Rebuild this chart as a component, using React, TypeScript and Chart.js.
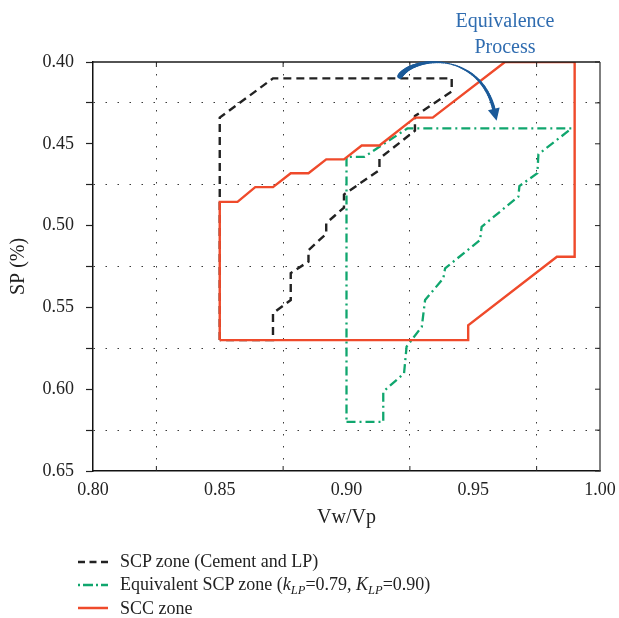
import React, { useEffect, useRef } from "react";
import { Chart, registerables } from "chart.js";

Chart.register(...registerables);

// ---- data ----
const SCP_X = [0.85, 0.85, 0.871, 0.9415, 0.9415, 0.927, 0.927, 0.913, 0.913, 0.899, 0.899, 0.892, 0.892, 0.885, 0.885, 0.878, 0.878, 0.871, 0.871, 0.85];
const SCP_Y = [0.57, 0.434, 0.41, 0.41, 0.418, 0.433, 0.442, 0.459, 0.466, 0.481, 0.489, 0.4985, 0.505, 0.515, 0.522, 0.529, 0.5455, 0.5535, 0.57, 0.57];

const EQ_X = [0.9, 0.9145, 0.9145, 0.9227, 0.9237, 0.9297, 0.931, 0.9382, 0.9389, 0.9527, 0.9533, 0.9678, 0.9682, 0.9753, 0.9757, 0.9888, 0.924, 0.907, 0.9, 0.9];
const EQ_Y = [0.62, 0.62, 0.6015, 0.5903, 0.574, 0.5618, 0.5455, 0.5322, 0.5261, 0.5088, 0.5007, 0.4823, 0.4758, 0.468, 0.4564, 0.4406, 0.4406, 0.458, 0.458, 0.62];

const SCC_X = [0.85, 0.948, 0.948, 0.983, 0.99, 0.99, 0.9625, 0.934, 0.927, 0.913, 0.906, 0.899, 0.892, 0.885, 0.878, 0.871, 0.864, 0.857, 0.85, 0.85];
const SCC_Y = [0.57, 0.57, 0.561, 0.519, 0.519, 0.4, 0.4, 0.434, 0.434, 0.451, 0.451, 0.4595, 0.4595, 0.468, 0.468, 0.4765, 0.4765, 0.4855, 0.4855, 0.57];

const X_TICKS = [0.8, 0.825, 0.85, 0.875, 0.9, 0.925, 0.95, 0.975, 1.0];
const X_LABELS = ["0.80", "", "0.85", "", "0.90", "", "0.95", "", "1.00"];
const Y_TICKS = [0.4, 0.425, 0.45, 0.475, 0.5, 0.525, 0.55, 0.575, 0.6, 0.625, 0.65];
const Y_LABELS = ["0.40", "", "0.45", "", "0.50", "", "0.55", "", "0.60", "", "0.65"];

const X_TITLE = "Vw/Vp";
const Y_TITLE = "SP (%)";
const ANNOT_LINES = ["Equivalence", "Process"];
const ANNOT_X = 0.9625;

// curved arrow (data coordinates): start, control 1, control 2, end
const ARROW = [
  { x: 0.9211, y: 0.4086 },
  { x: 0.927, y: 0.3957 },
  { x: 0.9527, y: 0.3939 },
  { x: 0.9582, y: 0.4293 },
];

const SERIF = '"Liberation Serif", "Times New Roman", serif';
const BLACK = "#222222";
const GREEN = "#10a66e";
const RED = "#ef4a2b";
const BLUE_TEXT = "#2f6cb0";
const BLUE_ARROW = "#1b5a99";

const pts = (xs: number[], ys: number[]) => xs.map((x, i) => ({ x, y: ys[i] }));

const framePlugin = {
  id: "frameAndAnnot",
  afterDraw(chart: any) {
    const { ctx, chartArea, scales } = chart;
    const xs = scales.x;
    const ys = scales.y;
    ctx.save();
    // top and right frame
    ctx.lineWidth = 1.5;
    ctx.strokeStyle = "#1a1a1a";
    ctx.beginPath();
    ctx.moveTo(chartArea.left, chartArea.top);
    ctx.lineTo(chartArea.right, chartArea.top);
    ctx.stroke();
    ctx.strokeStyle = "#555";
    ctx.beginPath();
    ctx.moveTo(chartArea.right, chartArea.top);
    ctx.lineTo(chartArea.right, chartArea.bottom);
    ctx.stroke();
    // inward ticks
    ctx.lineWidth = 1;
    ctx.strokeStyle = "#222";
    Y_TICKS.forEach((v) => {
      const py = ys.getPixelForValue(v);
      ctx.beginPath();
      ctx.moveTo(chartArea.right, py);
      ctx.lineTo(chartArea.right - 5, py);
      ctx.stroke();
    });
    X_TICKS.forEach((v, i) => {
      if (X_LABELS[i] !== "") return;
      const px = xs.getPixelForValue(v);
      ctx.beginPath();
      ctx.moveTo(px, chartArea.bottom);
      ctx.lineTo(px, chartArea.bottom - 5);
      ctx.moveTo(px, chartArea.top);
      ctx.lineTo(px, chartArea.top + 5);
      ctx.stroke();
    });

    // annotation text
    ctx.fillStyle = BLUE_TEXT;
    ctx.font = `20px ${SERIF}`;
    ctx.textAlign = "center";
    ctx.textBaseline = "alphabetic";
    const tx = xs.getPixelForValue(ANNOT_X);
    ctx.fillText(ANNOT_LINES[0], tx, chartArea.top - 35);
    ctx.fillText(ANNOT_LINES[1], tx, chartArea.top - 9);

    // curved arrow
    const P = ARROW.map((p) => ({ x: xs.getPixelForValue(p.x), y: ys.getPixelForValue(p.y) }));
    const bez = (t: number) => {
      const u = 1 - t;
      return {
        x: u * u * u * P[0].x + 3 * u * u * t * P[1].x + 3 * u * t * t * P[2].x + t * t * t * P[3].x,
        y: u * u * u * P[0].y + 3 * u * u * t * P[1].y + 3 * u * t * t * P[2].y + t * t * t * P[3].y,
      };
    };
    const N = 60;
    ctx.strokeStyle = BLUE_ARROW;
    ctx.lineCap = "round";
    for (let i = 0; i < N; i++) {
      const t0 = i / N;
      const t1 = (i + 1) / N;
      const tm = (t0 + t1) / 2;
      const w = tm < 0.5 ? 5.5 - 9 * tm : 1 + 5 * (tm - 0.5);
      const a = bez(t0);
      const b = bez(t1);
      ctx.lineWidth = Math.max(w, 1);
      ctx.beginPath();
      ctx.moveTo(a.x, a.y);
      ctx.lineTo(b.x, b.y);
      ctx.stroke();
    }
    // arrow head
    const dx = P[3].x - P[2].x;
    const dy = P[3].y - P[2].y;
    const len = Math.hypot(dx, dy);
    const ux = dx / len;
    const uy = dy / len;
    const tip = { x: P[3].x + ux * 11, y: P[3].y + uy * 11 };
    const base = { x: P[3].x - ux * 1, y: P[3].y - uy * 1 };
    ctx.fillStyle = BLUE_ARROW;
    ctx.beginPath();
    ctx.moveTo(tip.x, tip.y);
    ctx.lineTo(base.x - uy * 6, base.y + ux * 6);
    ctx.lineTo(base.x + uy * 6, base.y - ux * 6);
    ctx.closePath();
    ctx.fill();
    ctx.restore();
  },
};

function LegendSample({ kind }: { kind: "dash" | "dashdot" | "solid" }) {
  const color = kind === "dash" ? BLACK : kind === "dashdot" ? GREEN : RED;
  const dash = kind === "dash" ? "7 4.5" : kind === "dashdot" ? "2 3 10 3" : undefined;
  return (
    <svg width={30} height={6} style={{ display: "block" }}>
      <line x1={0} y1={3} x2={30} y2={3} stroke={color} strokeWidth={2.5} strokeDasharray={dash} />
    </svg>
  );
}

const rowStyle: React.CSSProperties = {
  display: "flex",
  alignItems: "center",
  height: 23.3,
  lineHeight: "23.3px",
  whiteSpace: "nowrap",
};

const subStyle: React.CSSProperties = {
  fontSize: 12.5,
  fontStyle: "italic",
  position: "relative",
  top: 4,
  lineHeight: 0,
};

export default function App() {
  const ref = useRef<HTMLCanvasElement | null>(null);

  useEffect(() => {
    if (!ref.current) return;
    const tickFont = { family: SERIF, size: 18 };
    const titleFont = { family: SERIF, size: 20 };
    const chart = new Chart(ref.current, {
      type: "scatter",
      data: {
        datasets: [
          {
            label: "SCP zone (Cement and LP)",
            data: pts(SCP_X, SCP_Y),
            showLine: true,
            borderColor: BLACK,
            borderWidth: 2.4,
            borderDash: [8, 5],
            pointRadius: 0,
            tension: 0,
            fill: false,
            order: 1,
          },
          {
            label: "Equivalent SCP zone",
            data: pts(EQ_X, EQ_Y),
            showLine: true,
            borderColor: GREEN,
            borderWidth: 2.3,
            borderDash: [9, 4, 2, 4],
            pointRadius: 0,
            tension: 0,
            fill: false,
            order: 2,
          },
          {
            label: "SCC zone",
            data: pts(SCC_X, SCC_Y),
            showLine: true,
            borderColor: RED,
            borderWidth: 2.4,
            pointRadius: 0,
            tension: 0,
            fill: false,
            order: 0,
          },
        ],
      },
      options: {
        animation: false,
        responsive: false,
        maintainAspectRatio: false,
        layout: { padding: { left: 0, top: 62, right: 19, bottom: 85 } },
        plugins: { legend: { display: false }, tooltip: { enabled: false } },
        scales: {
          x: {
            type: "linear",
            min: 0.8,
            max: 1.0,
            afterBuildTicks: (s: any) => {
              s.ticks = X_TICKS.map((v) => ({ value: v }));
            },
            afterFit: (s: any) => {
              s.height = 62;
              s.paddingLeft = 0;
              s.paddingRight = 0;
            },
            ticks: {
              autoSkip: false,
              maxRotation: 0,
              padding: 8,
              color: BLACK,
              font: tickFont,
              callback: (_v: any, i: number) => X_LABELS[i],
            },
            grid: {
              color: (c: any) => (X_LABELS[c.index] !== "" ? "rgba(0,0,0,0)" : "#3a3a3a"),
              lineWidth: 1,
              drawTicks: false,
            },
            border: { display: true, color: "#111", width: 1.5, dash: [1.5, 10.5] },
            title: { display: true, text: X_TITLE, color: BLACK, font: titleFont, padding: { top: 0, bottom: 3 } },
          },
          y: {
            type: "linear",
            reverse: true,
            min: 0.4,
            max: 0.65,
            afterBuildTicks: (s: any) => {
              s.ticks = Y_TICKS.map((v) => ({ value: v }));
            },
            afterFit: (s: any) => {
              s.width = 93;
              s.paddingTop = 0;
              s.paddingBottom = 0;
            },
            ticks: {
              autoSkip: false,
              padding: 12,
              color: BLACK,
              font: tickFont,
              callback: (_v: any, i: number) => Y_LABELS[i],
            },
            grid: {
              color: (c: any) => (Y_LABELS[c.index] !== "" ? "rgba(0,0,0,0)" : "#3a3a3a"),
              lineWidth: 1,
              drawTicks: true,
              tickLength: 7,
              tickColor: "#222",
              tickWidth: 1.2,
            },
            border: { display: true, color: "#111", width: 1.5, dash: [1.5, 10.5] },
            title: { display: true, text: Y_TITLE, color: BLACK, font: titleFont, padding: { top: 7, bottom: 0 } },
          },
        },
      } as any,
      plugins: [framePlugin],
    });
    return () => chart.destroy();
  }, []);

  return (
    <div style={{ position: "fixed", left: 0, top: 0, width: 619, height: 618, background: "#fff" }}>
      <canvas ref={ref} width={619} height={618} style={{ position: "absolute", left: 0, top: 0, width: 619, height: 618 }} />
      <div
        style={{
          position: "absolute",
          left: 78,
          top: 550,
          fontFamily: SERIF,
          fontSize: 18,
          color: BLACK,
        }}
      >
        <div style={rowStyle}>
          <LegendSample kind="dash" />
          <span style={{ marginLeft: 12 }}>SCP zone (Cement and LP)</span>
        </div>
        <div style={rowStyle}>
          <LegendSample kind="dashdot" />
          <span style={{ marginLeft: 12 }}>
            Equivalent SCP zone (<i>k</i>
            <span style={subStyle}>LP</span>=0.79, <i>K</i>
            <span style={subStyle}>LP</span>=0.90)
          </span>
        </div>
        <div style={rowStyle}>
          <LegendSample kind="solid" />
          <span style={{ marginLeft: 12 }}>SCC zone</span>
        </div>
      </div>
    </div>
  );
}
